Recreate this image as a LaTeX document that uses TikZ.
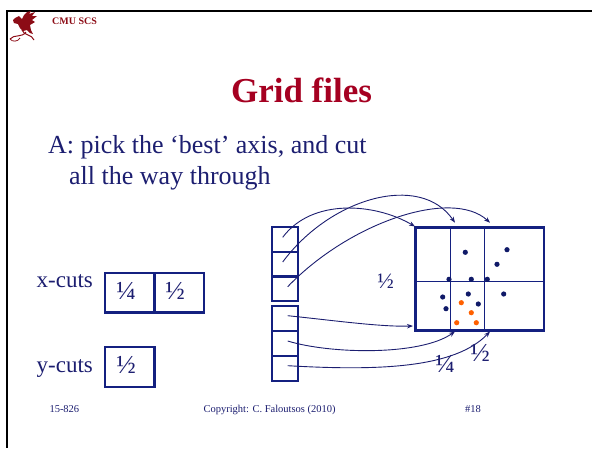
\documentclass[tikz,border=0pt]{standalone}
\usepackage{fontspec}
\setmainfont{Liberation Serif}
\usetikzlibrary{arrows.meta}
\definecolor{navy}{RGB}{28,30,112}
\definecolor{boxblue}{RGB}{20,32,128}
\definecolor{dotblue}{RGB}{16,26,104}
\definecolor{dotorange}{RGB}{255,96,0}
\definecolor{titlered}{RGB}{165,0,33}
\definecolor{logored}{RGB}{140,12,22}
\tikzset{
  cutbox/.style={draw=boxblue, line width=2.4pt, inner sep=0pt},
  ptr/.style={draw=navy, line width=0.9pt, -{Stealth[length=6pt,width=4.5pt]}},
  bodytext/.style={text=navy, font=\fontsize{26}{30}\selectfont, anchor=base west, inner sep=0pt},
  cuttext/.style={text=navy, font=\fontsize{23}{26}\selectfont, anchor=base west, inner sep=0pt},
  fractext/.style={text=navy, inner sep=0pt},
  foot/.style={text=navy, font=\fontsize{10.5}{12}\selectfont, anchor=base west, inner sep=0pt},
  ndot/.style={fill=dotblue},
  odot/.style={fill=dotorange}
}
\begin{document}
\begin{tikzpicture}[x=1pt,y=-1pt]
\useasboundingbox (0,0) rectangle (592,448);
% frame
\draw[black, line width=2.2pt] (6,11) -- (592,11);
\draw[black, line width=2.2pt] (7,10) -- (7,448);
% logo (stylised dragon)
\fill[logored] (15,18) -- (19,16) -- (22,19) -- (24,15) -- (27,12) -- (31,11) -- (29,14) -- (35,12) -- (32,16) -- (37,16) -- (32,20) -- (35,22) -- (30,25) -- (31,30) -- (33,34) -- (30,33) -- (27,30) -- (23,31) -- (20,28) -- (18,24) -- (14,23) -- (13,20) -- cycle;
\draw[logored, line width=1pt] (22,30) .. controls (24,36) and (32,34) .. (34,40);
\draw[logored, line width=1pt] (26,32) .. controls (22,38) and (14,34) .. (10,39);
\draw[logored, line width=0.8pt] (10,39) .. controls (12,42) and (18,42) .. (20,38);
\node[text=logored, font=\bfseries\fontsize{10}{12}\selectfont, anchor=base west, inner sep=0pt] (cmu) at (52,24) {CMU SCS};
% title
\node[text=titlered, font=\bfseries\fontsize{35}{40}\selectfont, anchor=base, inner sep=0pt] (title) at (301.5,102) {Grid files};
% body text
\node[bodytext] (line1) at (48,153) {A: pick the ‘best’ axis, and cut};
\node[bodytext] (line2) at (69,184) {all the way through};
% x-cuts / y-cuts
\node[cuttext] (xcuts) at (36.5,287.5) {x-cuts};
\node[cuttext] (ycuts) at (36.5,372) {y-cuts};
\node[cutbox, minimum width=49.3pt, minimum height=39.6pt] (xb1) at (129.7,292.5) {};
\node[cutbox, minimum width=49.7pt, minimum height=39.6pt] (xb2) at (179.2,292.5) {};
\node[cutbox, minimum width=49.3pt, minimum height=40pt] (yb1) at (129.7,366.7) {};
\node[fractext, font=\fontsize{26}{28}\selectfont] (xf1) at (126,291) {¼};
\node[fractext, font=\fontsize{26}{28}\selectfont] (xf2) at (175,291) {½};
\node[fractext, font=\fontsize{26}{28}\selectfont] (yf1) at (126,365) {½};
% bucket pointer column
\node[cutbox, minimum width=26pt, minimum height=24.6pt] (b1) at (285,239.5) {};
\node[cutbox, minimum width=26pt, minimum height=24.6pt] (b2) at (285,264.2) {};
\node[cutbox, minimum width=26pt, minimum height=24.6pt] (b3) at (285,288.8) {};
\node[cutbox, minimum width=26pt, minimum height=25pt] (b4) at (285,318.5) {};
\node[cutbox, minimum width=26pt, minimum height=25pt] (b5) at (285,343.5) {};
\node[cutbox, minimum width=26pt, minimum height=25pt] (b6) at (285,368.5) {};
% grid
\node[cutbox, line width=2.8pt, minimum width=128.5pt, minimum height=103pt] (grid) at (479.8,279) {};
\draw[boxblue, line width=0.9pt] (450.5,227.5) -- (450.5,330.5);
\draw[boxblue, line width=0.9pt] (484.7,227.5) -- (484.7,330.5);
\draw[boxblue, line width=0.9pt] (415.5,281.5) -- (544,281.5);
% points
\foreach \px/\py in {465.3/252.3, 507/249.7, 497/264.3, 449/279.3, 471.3/279.3, 487.3/279.3, 442.7/297, 468.3/294, 503.7/294, 446/308.7, 478.3/304}
  \fill[ndot] (\px,\py) circle (2.6pt);
\foreach \px/\py in {461.3/302.7, 471.3/312.7, 456.7/322.7, 476.3/322.7}
  \fill[odot] (\px,\py) circle (2.6pt);
% labels
\node[fractext, font=\fontsize{22}{24}\selectfont] (lh) at (385.5,281.5) {½};
\node[fractext, font=\fontsize{26}{28}\selectfont] (lb2) at (480,353) {½};
\node[fractext, font=\fontsize{26}{28}\selectfont] (lb4) at (445,363.5) {¼};
% pointer coordinates
\coordinate (s1) at (282.7,237.3);
\coordinate (s2) at (282.7,262);
\coordinate (s3) at (287.7,286.7);
\coordinate (s4) at (287.7,315.7);
\coordinate (s5) at (287.7,341);
\coordinate (s6) at (287.7,365.7);
\coordinate (e1) at (415,226.5);
\coordinate (e2) at (455,222.7);
\coordinate (e3) at (490,222.7);
\coordinate (e4) at (413,326);
\coordinate (e5) at (455,331.5);
\coordinate (e6) at (490,331.5);
\draw[ptr] (s1) .. controls (312,198) and (375,203) .. (e1);
\draw[ptr] (s2) .. controls (330,198) and (420,172) .. (e2);
\draw[ptr] (s3) .. controls (350,222) and (452,188) .. (e3);
\draw[ptr] (s4) .. controls (330,320) and (380,327) .. (e4);
\draw[ptr] (s5) .. controls (330,354) and (420,356) .. (e5);
\draw[ptr] (s6) .. controls (380,371) and (455,368) .. (e6);
% footer
\node[foot] (f1) at (49.3,412) {15-826};
\node[foot] (f2) at (203.3,412) {Copyright: C. Faloutsos (2010)};
\node[foot] (f3) at (465,412) {\#18};
\end{tikzpicture}
\end{document}
